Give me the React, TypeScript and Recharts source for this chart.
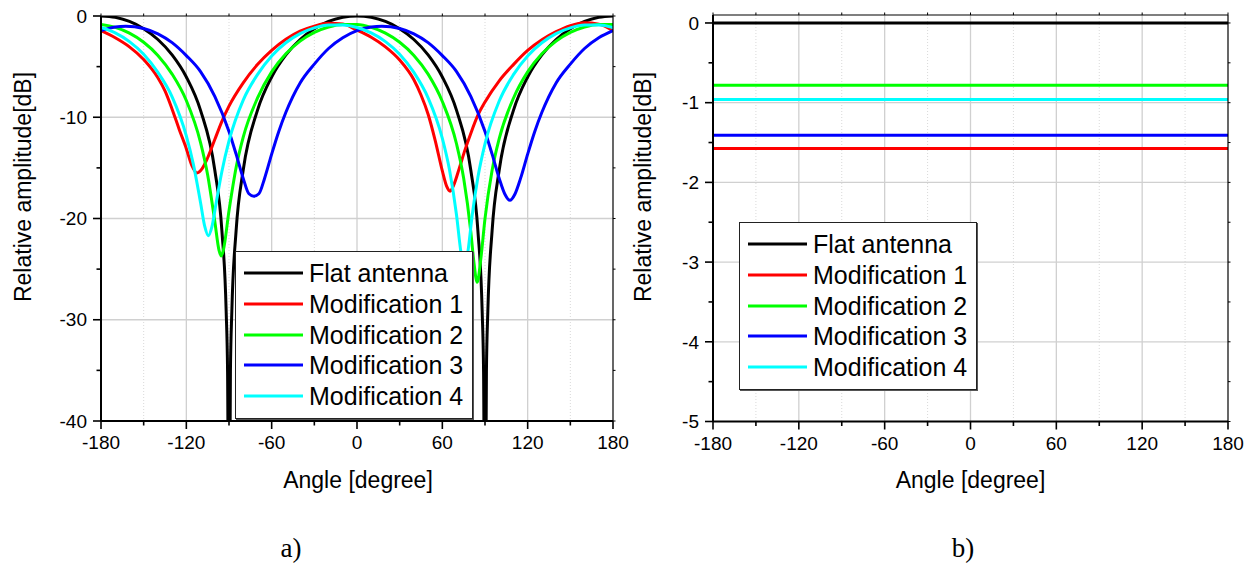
import React from 'react';
import { LineChart, Line, XAxis, YAxis, CartesianGrid, Legend } from 'recharts';

const FONT = '"Liberation Sans", Arial, Helvetica, sans-serif';
const SERIF = '"Liberation Serif", "Times New Roman", serif';

const SERIES_NAMES = ['Flat antenna', 'Modification 1', 'Modification 2', 'Modification 3', 'Modification 4'];
const SERIES_COLORS = ['#000000', '#ff0000', '#00ff00', '#0000ff', '#00ffff'];

// ---------- panel a) : radiation patterns ----------
const FLAT_ANGLES = [-180, -170, -160, -150, -140, -130, -120, -110, -100, -95, -92, -91, -90, -89, -88, -85, -80, -70, -60, -50, -40, -30, -20, -10, 0, 10, 20, 30, 40, 50, 60, 70, 80, 85, 88, 89, 90, 91, 92, 95, 100, 110, 120, 130, 140, 150, 160, 170, 180];
const FLAT_DB = [0, -0.13, -0.54, -1.25, -2.32, -3.84, -6.02, -9.32, -15.21, -21.19, -29.14, -35.16, -60, -35.16, -29.14, -21.19, -15.21, -9.32, -6.02, -3.84, -2.32, -1.25, -0.54, -0.13, 0, -0.13, -0.54, -1.25, -2.32, -3.84, -6.02, -9.32, -15.21, -21.19, -29.14, -35.16, -60, -35.16, -29.14, -21.19, -15.21, -9.32, -6.02, -3.84, -2.32, -1.25, -0.54, -0.13, 0];

const MOD1_ANGLES = [-180, -170, -160, -150, -140, -135, -130, -125, -120, -116, -112.5, -109, -105, -100, -95, -90, -80, -70, -60, -50, -40, -30, -20, -10, 0, 10, 20, 30, 40, 45, 50, 55, 60, 63, 65.5, 68, 72, 76, 80, 85, 90, 100, 110, 120, 130, 140, 150, 160, 170, 180];
const MOD1_DB = [-1.45, -2.15, -3.05, -4.3, -6.1, -7.4, -9.2, -11.2, -13.1, -14.8, -15.5, -15.1, -14.0, -12.2, -10.4, -8.9, -6.6, -4.8, -3.4, -2.3, -1.5, -1.0, -0.72, -0.8, -1.4, -2.1, -3.05, -4.35, -6.3, -7.8, -9.7, -12.3, -15.3, -16.8, -17.3, -16.7, -15.0, -13.2, -11.6, -9.8, -8.5, -6.4, -4.8, -3.4, -2.35, -1.55, -0.95, -0.66, -0.8, -1.45];

const MOD2_ANGLES = [-180, -170, -160, -150, -140, -130, -120, -110, -105, -100, -97, -95.5, -94, -90, -85, -80, -70, -60, -50, -40, -30, -20, -10, 0, 10, 20, 30, 40, 50, 60, 70, 75, 80, 82, 84.5, 87, 90, 95, 100, 110, 120, 130, 140, 150, 160, 170, 180];
const MOD2_DB = [-0.84, -1.12, -1.69, -2.59, -3.89, -5.74, -8.35, -12.5, -15.7, -20.27, -23.15, -23.7, -23.15, -19.24, -14.97, -11.96, -8.12, -5.52, -3.73, -2.48, -1.62, -1.08, -0.83, -0.84, -1.12, -1.69, -2.59, -3.89, -5.74, -8.44, -12.64, -16.03, -21.27, -24.06, -26.3, -24.06, -20.01, -15.24, -12.1, -8.12, -5.52, -3.73, -2.48, -1.62, -1.08, -0.83, -0.84];

const MOD3_ANGLES = [-180, -170, -162.5, -150, -140, -130, -120, -110, -100, -90, -85, -80, -76, -72.5, -69, -65, -60, -55, -50, -40, -30, -20, -10, 0, 10, 17.5, 30, 40, 50, 60, 70, 80, 90, 95, 100, 104, 107.5, 111, 115, 120, 125, 130, 140, 150, 160, 170, 180];
const MOD3_DB = [-1.45, -1.08, -1.0, -1.23, -1.76, -2.63, -3.91, -5.49, -7.93, -11.4, -13.64, -16.04, -17.56, -17.8, -17.56, -16.04, -13.64, -11.4, -9.51, -6.61, -4.75, -3.21, -2.15, -1.45, -1.08, -1.0, -1.23, -1.76, -2.63, -3.91, -5.49, -7.93, -11.4, -13.64, -16.04, -17.6, -18.2, -17.6, -16.04, -13.64, -11.4, -9.51, -6.61, -4.75, -3.21, -2.15, -1.45];

const MOD4_ANGLES = [-180, -170, -160, -150, -140, -130, -120, -115, -110, -107, -104.5, -102, -99, -95, -90, -80, -70, -60, -50, -40, -30, -20, -10, 0, 10, 20, 30, 40, 50, 60, 65, 70, 73, 75.5, 78, 81, 85, 90, 100, 110, 120, 130, 140, 150, 160, 170, 180];
const MOD4_DB = [-1.13, -1.67, -2.53, -3.78, -5.57, -7.98, -11.84, -14.68, -18.44, -20.81, -21.7, -20.81, -18.44, -15.36, -12.34, -8.3, -5.79, -3.94, -2.64, -1.74, -1.17, -0.89, -0.88, -1.13, -1.67, -2.53, -3.78, -5.57, -8.08, -12.08, -15.16, -19.68, -23.25, -25.0, -23.25, -19.68, -15.92, -12.62, -8.4, -5.79, -3.94, -2.64, -1.74, -1.17, -0.89, -0.88, -1.13];

// ---------- panel b) : constant levels ----------
const LEVEL_ANGLES = [-180, 180];
const FLAT_LEVEL = [0, 0];
const MOD1_LEVEL = [-1.575, -1.575];
const MOD2_LEVEL = [-0.78, -0.78];
const MOD3_LEVEL = [-1.41, -1.41];
const MOD4_LEVEL = [-0.96, -0.96];

// ---------- axes ----------
const ANGLE_TICKS = [-180, -150, -120, -90, -60, -30, 0, 30, 60, 90, 120, 150, 180];
const ANGLE_LABELS = [-180, -120, -60, 0, 60, 120, 180];
const ANGLE_MINOR_GRID = [-150, -90, -30, 30, 90, 150];
const ANGLE_MAJOR_GRID = [-120, -60, 0, 60, 120];

const DB_TICKS_A = [-40, -35, -30, -25, -20, -15, -10, -5, 0];
const DB_LABELS_A = [-40, -30, -20, -10, 0];
const DB_GRID_A = [-30, -20, -10];

const DB_TICKS_B = [-5, -4.5, -4, -3.5, -3, -2.5, -2, -1.5, -1, -0.5, 0];
const DB_LABELS_B = [-5, -4, -3, -2, -1, 0];
const DB_GRID_B = [-4, -3, -2, -1, 0];

const toRows = (angles: number[], values: number[]) => angles.map((a, i) => ({ angle: a, value: values[i] }));

const SERIES_A = [
  toRows(FLAT_ANGLES, FLAT_DB),
  toRows(MOD1_ANGLES, MOD1_DB),
  toRows(MOD2_ANGLES, MOD2_DB),
  toRows(MOD3_ANGLES, MOD3_DB),
  toRows(MOD4_ANGLES, MOD4_DB),
];
const SERIES_B = [
  toRows(LEVEL_ANGLES, FLAT_LEVEL),
  toRows(LEVEL_ANGLES, MOD1_LEVEL),
  toRows(LEVEL_ANGLES, MOD2_LEVEL),
  toRows(LEVEL_ANGLES, MOD3_LEVEL),
  toRows(LEVEL_ANGLES, MOD4_LEVEL),
];

const BottomTick = (props: any) => {
  const { x, y, payload } = props;
  const v = payload.value;
  const major = ANGLE_LABELS.includes(v);
  return (
    <g>
      <line x1={x} x2={x} y1={y} y2={y + (major ? 8 : 4.5)} stroke="#000" strokeWidth={1.6} />
      {major && (
        <text x={x} y={y + 15} dy="0.71em" textAnchor="middle" fontSize={19} fontFamily={FONT} fill="#000">
          {v}
        </text>
      )}
    </g>
  );
};

const makeLeftTick = (labels: number[]) => (props: any) => {
  const { x, y, payload } = props;
  const v = payload.value;
  const major = labels.includes(v);
  return (
    <g>
      <line x1={x} x2={x - (major ? 8 : 4.5)} y1={y} y2={y} stroke="#000" strokeWidth={1.6} />
      {major && (
        <text x={x - 14} y={y} dy="0.355em" textAnchor="end" fontSize={19} fontFamily={FONT} fill="#000">
          {v}
        </text>
      )}
    </g>
  );
};

const TopTick = (props: any) => {
  const { x, y } = props;
  return <line x1={x} x2={x} y1={y} y2={y - 2.5} stroke="#000" strokeWidth={1} />;
};

const RightTick = (props: any) => {
  const { x, y } = props;
  return <line x1={x} x2={x + 2.5} y1={y} y2={y} stroke="#000" strokeWidth={1} />;
};

const LegendBox = (props: any) => {
  const payload = props.payload || [];
  return (
    <div
      style={{
        width: 238,
        height: 168,
        boxSizing: 'border-box',
        border: '1px solid #222',
        boxShadow: '1px 1px 0 #555',
        background: '#fff',
        position: 'relative',
        fontFamily: FONT,
      }}
    >
      {payload.map((e: any, i: number) => (
        <div
          key={i}
          style={{
            position: 'absolute',
            left: 8,
            top: 21 + i * 30.8 - 15,
            height: 30,
            display: 'flex',
            alignItems: 'center',
          }}
        >
          <svg width={59} height={6} style={{ display: 'block' }}>
            <line x1={0} x2={59} y1={3} y2={3} stroke={e.color} strokeWidth={3} />
          </svg>
          <span style={{ marginLeft: 6, fontSize: 25, lineHeight: '30px', whiteSpace: 'nowrap', color: '#000' }}>
            {e.value}
          </span>
        </div>
      ))}
    </div>
  );
};

type PanelProps = {
  width: number;
  height: number;
  margin: { top: number; right: number; bottom: number; left: number };
  series: { angle: number; value: number }[][];
  yDomain: [number, number];
  yTicks: number[];
  yLabels: number[];
  yGrid: number[];
  legendPos: { left: number; top: number };
};

const Panel = ({ width, height, margin, series, yDomain, yTicks, yLabels, yGrid, legendPos }: PanelProps) => (
  <LineChart width={width} height={height} margin={margin}>
    <CartesianGrid verticalValues={ANGLE_MINOR_GRID} horizontal={false} stroke="#d9d9d9" strokeDasharray="1 2" strokeWidth={1} />
    <CartesianGrid verticalValues={ANGLE_MAJOR_GRID} horizontalValues={yGrid} stroke="#d0d0d0" strokeWidth={1.3} />
    <XAxis
      dataKey="angle"
      type="number"
      domain={[-180, 180]}
      ticks={ANGLE_TICKS}
      interval={0}
      allowDataOverflow
      height={30}
      tickSize={0}
      tickMargin={0}
      tickLine={false}
      axisLine={{ stroke: '#000', strokeWidth: 2 }}
      tick={BottomTick}
    />
    <XAxis
      xAxisId="top"
      orientation="top"
      dataKey="angle"
      type="number"
      domain={[-180, 180]}
      ticks={ANGLE_TICKS}
      interval={0}
      allowDataOverflow
      height={10}
      tickSize={0}
      tickMargin={0}
      tickLine={false}
      axisLine={{ stroke: '#000', strokeWidth: 1.2 }}
      tick={TopTick}
    />
    <YAxis
      type="number"
      domain={yDomain}
      ticks={yTicks}
      interval={0}
      allowDataOverflow
      width={60}
      tickSize={0}
      tickMargin={0}
      tickLine={false}
      axisLine={{ stroke: '#000', strokeWidth: 2 }}
      tick={makeLeftTick(yLabels)}
    />
    <YAxis
      yAxisId="right"
      orientation="right"
      type="number"
      domain={yDomain}
      ticks={yTicks}
      interval={0}
      allowDataOverflow
      width={20}
      tickSize={0}
      tickMargin={0}
      tickLine={false}
      axisLine={{ stroke: '#000', strokeWidth: 1.2 }}
      tick={RightTick}
    />
    {series.map((rows, i) => (
      <Line
        key={SERIES_NAMES[i]}
        data={rows}
        dataKey="value"
        name={SERIES_NAMES[i]}
        type="monotone"
        stroke={SERIES_COLORS[i]}
        strokeWidth={3}
        dot={false}
        activeDot={false}
        isAnimationActive={false}
      />
    ))}
    <Legend
      layout="vertical"
      align="center"
      verticalAlign="middle"
      content={LegendBox}
      wrapperStyle={{ left: legendPos.left, top: legendPos.top, width: 238, height: 168 }}
    />
  </LineChart>
);

const textBase: React.CSSProperties = {
  position: 'absolute',
  whiteSpace: 'nowrap',
  lineHeight: 1,
  color: '#000',
};

export default function App() {
  return (
    <div style={{ position: 'absolute', left: 0, top: 0, width: 1253, height: 563, background: '#fff', overflow: 'hidden' }}>
      <div style={{ position: 'absolute', left: 0, top: 0 }}>
        <Panel
          width={640}
          height={563}
          margin={{ top: 6, right: 7, bottom: 112, left: 41 }}
          series={SERIES_A}
          yDomain={[-40, 0]}
          yTicks={DB_TICKS_A}
          yLabels={DB_LABELS_A}
          yGrid={DB_GRID_A}
          legendPos={{ left: 235, top: 251 }}
        />
      </div>
      <div style={{ position: 'absolute', left: 640, top: 0 }}>
        <Panel
          width={613}
          height={563}
          margin={{ top: 5, right: 5, bottom: 111.5, left: 13 }}
          series={SERIES_B}
          yDomain={[-5, 0.1]}
          yTicks={DB_TICKS_B}
          yLabels={DB_LABELS_B}
          yGrid={DB_GRID_B}
          legendPos={{ left: 99, top: 222 }}
        />
      </div>

      <div style={{ ...textBase, left: 23, top: 187, fontFamily: FONT, fontSize: 23, transform: 'translate(-50%, -50%) rotate(-90deg)' }}>
        Relative amplitude[dB]
      </div>
      <div style={{ ...textBase, left: 643, top: 187, fontFamily: FONT, fontSize: 23, transform: 'translate(-50%, -50%) rotate(-90deg)' }}>
        Relative amplitude[dB]
      </div>
      <div style={{ ...textBase, left: 358, top: 480, fontFamily: FONT, fontSize: 23, transform: 'translate(-50%, -50%)' }}>
        Angle [degree]
      </div>
      <div style={{ ...textBase, left: 970.5, top: 480, fontFamily: FONT, fontSize: 23, transform: 'translate(-50%, -50%)' }}>
        Angle [degree]
      </div>
      <div style={{ ...textBase, left: 291, top: 548, fontFamily: SERIF, fontSize: 27, transform: 'translate(-50%, -50%)' }}>
        a)
      </div>
      <div style={{ ...textBase, left: 963, top: 548, fontFamily: SERIF, fontSize: 27, transform: 'translate(-50%, -50%)' }}>
        b)
      </div>
    </div>
  );
}
